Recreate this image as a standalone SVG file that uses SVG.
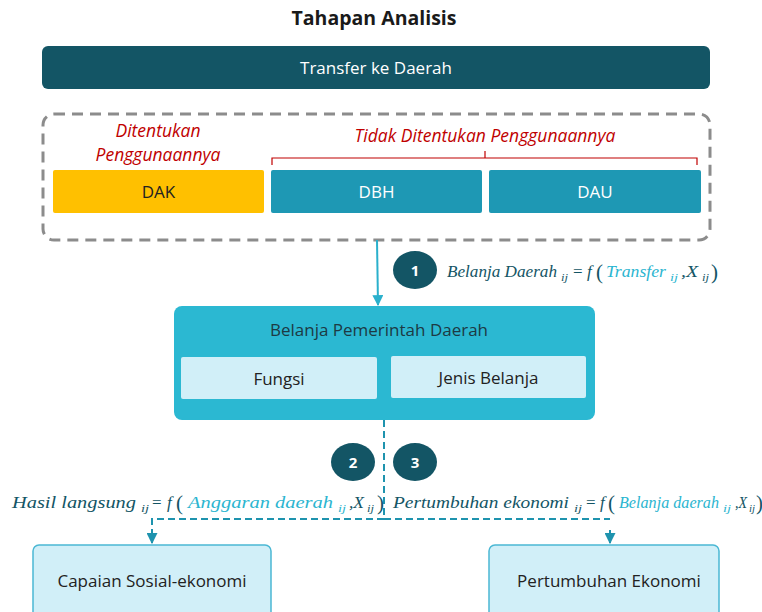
<svg xmlns="http://www.w3.org/2000/svg" width="762" height="612" viewBox="0 0 762 612">
<defs>
<style>
.sans{font-family:"Open Sans","Noto Sans",sans-serif}
.m{font-family:"Liberation Serif",serif;font-style:italic;font-size:17px;fill:#135565}
.s{font-family:"Liberation Serif",serif;font-style:italic;font-size:11px;fill:#135565}
.u{font-family:"Liberation Serif",serif;font-size:17px;fill:#135565}
.p{font-family:"Liberation Serif",serif;font-size:21px;fill:#135565}
.hl{fill:#2BB5D0}
.red{font-family:"Open Sans","Noto Sans",sans-serif;font-style:italic;font-size:17.5px;fill:#C00000}
.num{font-family:"Open Sans","Noto Sans",sans-serif;font-weight:bold;font-size:15px;fill:#ffffff}
.lbl{font-family:"Open Sans","Noto Sans",sans-serif;font-size:17px}
</style>
<marker id="ah" viewBox="0 0 10 10" refX="9" refY="5" markerWidth="5.5" markerHeight="5.5" orient="auto"><path d="M0,0 L10,5 L0,10 z" fill="#1E93AE"/></marker>
<marker id="ah2" viewBox="0 0 10 10" refX="9" refY="5" markerWidth="5.5" markerHeight="5.5" orient="auto"><path d="M0,0 L10,5 L0,10 z" fill="#2AB0CC"/></marker>
</defs>
<rect width="762" height="612" fill="#ffffff"/>
<text x="374" y="25" text-anchor="middle" class="sans" font-size="19.5" font-weight="bold" fill="#1a1a1a">Tahapan Analisis</text>

<g id="transfer">
<rect x="42" y="46" width="668" height="43" rx="6" fill="#135565"/>
<text x="376" y="74" text-anchor="middle" class="lbl" fill="#ffffff">Transfer ke Daerah</text>
</g>

<g id="group-transfer">
<rect x="43" y="114" width="667" height="126" rx="11" fill="none" stroke="#8C8C8C" stroke-width="3" stroke-dasharray="11 7"/>
<text x="158" y="137" text-anchor="middle" class="red">Ditentukan</text>
<text x="158" y="161" text-anchor="middle" class="red">Penggunaannya</text>
<text x="485" y="142" text-anchor="middle" class="red">Tidak Ditentukan Penggunaannya</text>
<path d="M272,165 V158 H697 V165 M485,158 V151" fill="none" stroke="#C00000" stroke-width="1.2"/>
</g>

<g id="dak">
<rect x="53" y="170" width="211" height="43" rx="2" fill="#FFC000"/>
<text x="158.5" y="198" text-anchor="middle" class="lbl" fill="#222">DAK</text>
</g>
<g id="dbh">
<rect x="271" y="170" width="211" height="43" rx="2" fill="#1E98B4"/>
<text x="376.5" y="198" text-anchor="middle" class="lbl" fill="#ffffff">DBH</text>
</g>
<g id="dau">
<rect x="489" y="170" width="212" height="43" rx="2" fill="#1E98B4"/>
<text x="595" y="198" text-anchor="middle" class="lbl" fill="#ffffff">DAU</text>
</g>

<g id="belanja">
<rect x="174" y="306" width="421" height="114" rx="8" fill="#2BB8D2"/>
<text x="379" y="336" text-anchor="middle" class="lbl" font-size="17.5" fill="#1d3a44">Belanja Pemerintah Daerah</text>
<rect x="181" y="357" width="196" height="42" rx="2" fill="#D1EFF8"/>
<text x="279" y="385" text-anchor="middle" class="lbl" fill="#222">Fungsi</text>
<rect x="391" y="356" width="195" height="42" rx="2" fill="#D1EFF8"/>
<text x="488.5" y="384" text-anchor="middle" class="lbl" fill="#222">Jenis Belanja</text>
</g>

<g id="capaian">
<rect x="33" y="545" width="238" height="75" rx="6" fill="#D1EFF8" stroke="#4BB8D4" stroke-width="1.5"/>
<text x="152" y="587" text-anchor="middle" class="lbl" font-size="18" fill="#222">Capaian Sosial-ekonomi</text>
</g>
<g id="pertumbuhan">
<rect x="489" y="545" width="230" height="75" rx="6" fill="#D1EFF8" stroke="#4BB8D4" stroke-width="1.5"/>
<text x="609" y="587" text-anchor="middle" class="lbl" font-size="18" fill="#222">Pertumbuhan Ekonomi</text>
</g>

<g id="connectors">
<line x1="377" y1="240" x2="378" y2="305" stroke="#2AB0CC" stroke-width="2" marker-end="url(#ah2)"/>
<path d="M384,420 V519 H152 V543" fill="none" stroke="#1E93AE" stroke-width="2" stroke-dasharray="7 4" marker-end="url(#ah)"/>
<path d="M384,519 H610" fill="none" stroke="#1E93AE" stroke-width="2" stroke-dasharray="7 4"/>
<line x1="610" y1="530" x2="610" y2="543" stroke="#1E93AE" stroke-width="2" marker-end="url(#ah)"/>
</g>

<g id="step1">
<ellipse cx="415" cy="270" rx="22" ry="19" fill="#135565"/>
<text x="415" y="275.5" text-anchor="middle" class="num">1</text>
<text x="447" y="277" class="m" textLength="110" lengthAdjust="spacingAndGlyphs">Belanja Daerah</text>
<text x="561" y="281" class="s" textLength="7" lengthAdjust="spacingAndGlyphs">ij</text>
<text x="573" y="277" class="u">=</text>
<text x="587" y="277" class="m">f</text>
<text x="596" y="279" class="p">(</text>
<text x="606" y="277" class="m hl" textLength="60" lengthAdjust="spacingAndGlyphs">Transfer</text>
<text x="670" y="281" class="s hl" textLength="8" lengthAdjust="spacingAndGlyphs">ij</text>
<text x="681" y="277" class="m" textLength="17" lengthAdjust="spacingAndGlyphs">,X</text>
<text x="702" y="281" class="s" textLength="7" lengthAdjust="spacingAndGlyphs">ij</text>
<text x="711" y="279" class="p">)</text>
</g>
<g id="step2">
<ellipse cx="353" cy="462" rx="22" ry="19" fill="#135565"/>
<text x="353" y="467.5" text-anchor="middle" class="num">2</text>
<text x="12" y="508" class="m" textLength="124" lengthAdjust="spacingAndGlyphs">Hasil langsung</text>
<text x="141" y="512" class="s" textLength="8" lengthAdjust="spacingAndGlyphs">ij</text>
<text x="152" y="508" class="u">=</text>
<text x="167" y="508" class="m">f</text>
<text x="176" y="510" class="p">(</text>
<text x="188" y="508" class="m hl" textLength="145" lengthAdjust="spacingAndGlyphs">Anggaran daerah</text>
<text x="338" y="512" class="s hl" textLength="8" lengthAdjust="spacingAndGlyphs">ij</text>
<text x="349" y="508" class="m" textLength="15" lengthAdjust="spacingAndGlyphs">,X</text>
<text x="367" y="512" class="s" textLength="7" lengthAdjust="spacingAndGlyphs">ij</text>
<text x="377" y="510" class="p">)</text>
</g>
<g id="step3">
<ellipse cx="415" cy="462" rx="22" ry="19" fill="#135565"/>
<text x="415" y="467.5" text-anchor="middle" class="num">3</text>
<text x="393" y="508" class="m" textLength="176" lengthAdjust="spacingAndGlyphs">Pertumbuhan ekonomi</text>
<text x="574" y="512" class="s" textLength="8" lengthAdjust="spacingAndGlyphs">ij</text>
<text x="586" y="508" class="u">=</text>
<text x="600" y="508" class="m">f</text>
<text x="608" y="510" class="p">(</text>
<text x="619" y="508" class="m hl" textLength="100" lengthAdjust="spacingAndGlyphs">Belanja daerah</text>
<text x="723" y="512" class="s hl" textLength="8" lengthAdjust="spacingAndGlyphs">ij</text>
<text x="735" y="508" class="m" textLength="12" lengthAdjust="spacingAndGlyphs">,X</text>
<text x="749" y="512" class="s" textLength="6" lengthAdjust="spacingAndGlyphs">ij</text>
<text x="756" y="510" class="p" font-size="19">)</text>
</g>
</svg>
